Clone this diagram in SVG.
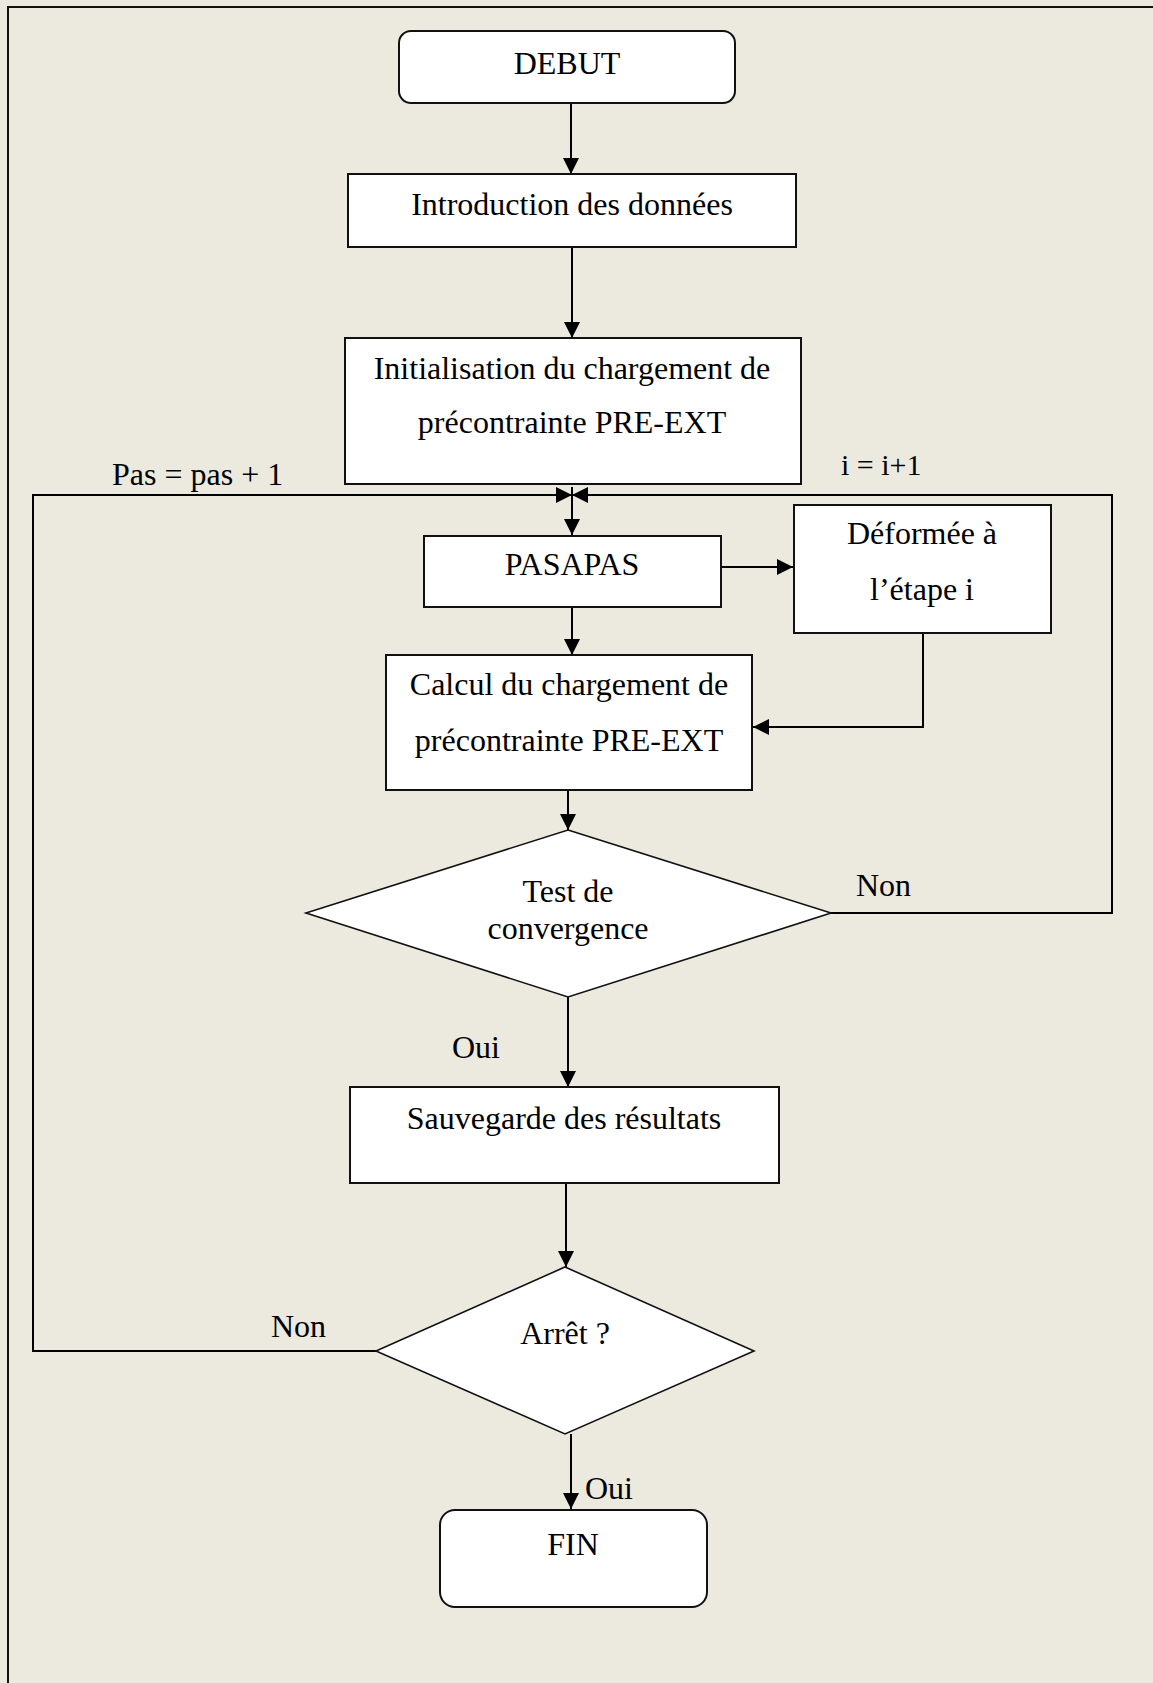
<svg xmlns="http://www.w3.org/2000/svg" width="1153" height="1683" viewBox="0 0 1153 1683">
  <style>
    .bg { fill: #ECE9DF; }
    .frame { fill: none; stroke: #111; stroke-width: 2; }
    .box { fill: #FFFFFF; stroke: #111; stroke-width: 2; }
    .dia { fill: #FFFFFF; stroke: #111; stroke-width: 1.6; }
    .wire { fill: none; stroke: #000; stroke-width: 2; }
    .lbl { font-family: "Liberation Serif", "Times New Roman", serif; font-size: 32px; fill: #000; }
    .mid { text-anchor: middle; }
  </style>
  <defs>
    <marker id="arrow" markerUnits="userSpaceOnUse" markerWidth="17" markerHeight="17" refX="16" refY="8" orient="auto">
      <path d="M0,0 L16,8 L0,16 Z" fill="#000"/>
    </marker>
  </defs>

  <rect class="bg" x="0" y="0" width="1153" height="1683"/>
  <!-- page frame (open on the right and bottom) -->
  <path class="frame" d="M8,1683 V7 H1153"/>

  <!-- connectors -->
  <g id="connectors">
    <line class="wire" x1="571" y1="104" x2="571" y2="174" marker-end="url(#arrow)"/>
    <line class="wire" x1="572" y1="247" x2="572" y2="338" marker-end="url(#arrow)"/>
    <!-- outer loop: Arrêt ? -> Non -> back to PASAPAS -->
    <polyline class="wire" points="376,1351 33,1351 33,495 572,495" marker-end="url(#arrow)"/>
    <!-- inner loop: Test de convergence -> Non -> back to PASAPAS -->
    <polyline class="wire" points="831,913 1112,913 1112,495 572,495" marker-end="url(#arrow)"/>
    <line class="wire" x1="572" y1="487" x2="572" y2="535" marker-end="url(#arrow)"/>
    <line class="wire" x1="722" y1="567" x2="793" y2="567" marker-end="url(#arrow)"/>
    <line class="wire" x1="572" y1="608" x2="572" y2="655" marker-end="url(#arrow)"/>
    <polyline class="wire" points="923,630 923,727 753,727" marker-end="url(#arrow)"/>
    <line class="wire" x1="568" y1="790" x2="568" y2="830" marker-end="url(#arrow)"/>
    <line class="wire" x1="568" y1="997" x2="568" y2="1087" marker-end="url(#arrow)"/>
    <line class="wire" x1="566" y1="1183" x2="566" y2="1267" marker-end="url(#arrow)"/>
    <line class="wire" x1="571" y1="1434" x2="571" y2="1509" marker-end="url(#arrow)"/>
  </g>

  <g id="debut">
    <rect class="box" x="399" y="31" width="336" height="72" rx="12"/>
    <text class="lbl mid" x="567" y="74">DEBUT</text>
  </g>

  <g id="introduction">
    <rect class="box" x="348" y="174" width="448" height="73"/>
    <text class="lbl mid" x="572" y="215">Introduction des données</text>
  </g>

  <g id="initialisation">
    <rect class="box" x="345" y="338" width="456" height="146"/>
    <text class="lbl mid" x="572" y="379">Initialisation du chargement de</text>
    <text class="lbl mid" x="572" y="433">précontrainte PRE-EXT</text>
  </g>

  <g id="label-pas">
    <text class="lbl" x="112" y="485">Pas = pas + 1</text>
  </g>

  <g id="label-i">
    <text class="lbl" x="841" y="475" style="font-size:30px">i = i+1</text>
  </g>

  <g id="pasapas">
    <rect class="box" x="424" y="536" width="297" height="71"/>
    <text class="lbl mid" x="572" y="575">PASAPAS</text>
  </g>

  <g id="deformee">
    <rect class="box" x="794" y="505" width="257" height="128"/>
    <text class="lbl mid" x="922" y="544">Déformée à</text>
    <text class="lbl mid" x="922" y="600">l’étape i</text>
  </g>

  <g id="calcul">
    <rect class="box" x="386" y="655" width="366" height="135"/>
    <text class="lbl mid" x="569" y="695">Calcul du chargement de</text>
    <text class="lbl mid" x="569" y="751">précontrainte PRE-EXT</text>
  </g>

  <g id="test-convergence">
    <polygon class="dia" points="568,830 831,913 568,997 306,913"/>
    <text class="lbl mid" x="568" y="902">Test de</text>
    <text class="lbl mid" x="568" y="939">convergence</text>
  </g>

  <g id="label-non-test">
    <text class="lbl" x="856" y="896">Non</text>
  </g>

  <g id="label-oui-test">
    <text class="lbl" x="452" y="1058">Oui</text>
  </g>

  <g id="sauvegarde">
    <rect class="box" x="350" y="1087" width="429" height="96"/>
    <text class="lbl mid" x="564" y="1129">Sauvegarde des résultats</text>
  </g>

  <g id="arret">
    <polygon class="dia" points="565,1267 754,1351 565,1434 376,1351"/>
    <text class="lbl mid" x="565" y="1344">Arrêt ?</text>
  </g>

  <g id="label-non-arret">
    <text class="lbl" x="271" y="1337">Non</text>
  </g>

  <g id="label-oui-arret">
    <text class="lbl" x="585" y="1499">Oui</text>
  </g>

  <g id="fin">
    <rect class="box" x="440" y="1510" width="267" height="97" rx="15"/>
    <text class="lbl mid" x="573" y="1555">FIN</text>
  </g>
</svg>
